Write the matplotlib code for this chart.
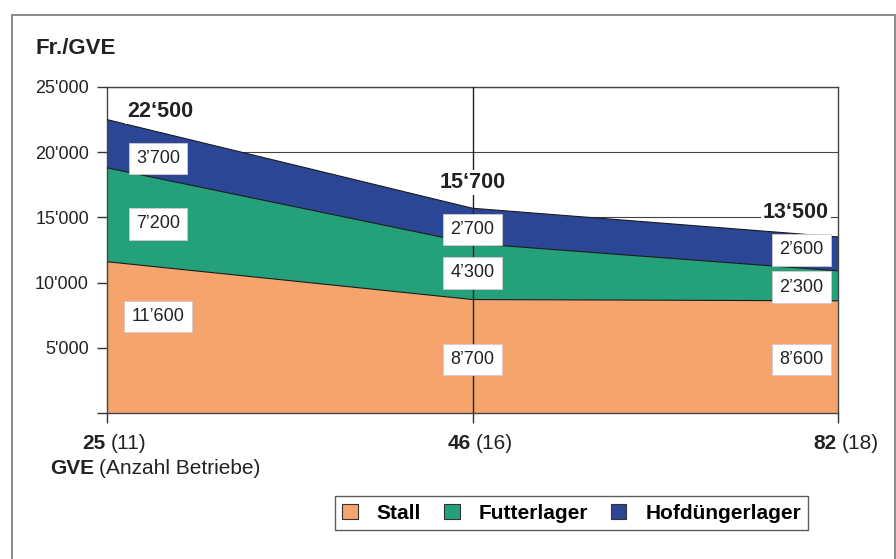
import matplotlib.pyplot as plt
from matplotlib.patches import Patch, Rectangle

plt.rcParams["font.family"] = ["Liberation Sans", "DejaVu Sans"]

# GVE classes (number of farms in brackets)
gve = ["25", "46", "82"]
betriebe = ["(11)", "(16)", "(18)"]

# costs in Fr./GVE
stall = [11600, 8700, 8600]
futterlager = [7200, 4300, 2300]
hofduenger = [3700, 2700, 2600]
totals = [22500, 15700, 13500]

series_names = ["Stall", "Futterlager", "Hofdüngerlager"]
colors = ["#F6A46E", "#24A07A", "#2C4696"]

# where the value boxes sit (category position, y in Fr./GVE)
label_x = [0.14, 1.0, 1.9]
label_y = [[7400, 4100, 4100], [14500, 10750, 9650], [19500, 14050, 12500]]
total_x = [0.145, 1.0, 1.885]
total_y = [23100, 17650, 15350]


def fmt(v, quote="\u2019"):
    return f"{v:,}".replace(",", quote)


fig = plt.figure(figsize=(8.96, 5.59), dpi=100)
ax = fig.add_axes([0.1194, 0.2612, 0.8159, 0.5832])

# outer frame of the figure
fig.patches.append(Rectangle((12 / 896, -0.1), 883 / 896, 1.073, transform=fig.transFigure,
                             fill=False, edgecolor="#777777", linewidth=1.2))

x = list(range(len(gve)))
layers = [stall, futterlager, hofduenger]
bottom = [0] * len(x)
for vals, col in zip(layers, colors):
    top = [b + v for b, v in zip(bottom, vals)]
    ax.fill_between(x, bottom, top, facecolor=col, edgecolor="none", zorder=2)
    ax.plot(x, top, color="#1a1a1a", linewidth=0.8, zorder=3)
    bottom = top

ax.set_xlim(0, 2)
ax.set_ylim(0, 25000)
ax.set_yticks(range(0, 25001, 5000))
ax.set_yticklabels([""] + [fmt(v, "'") for v in range(5000, 25001, 5000)], fontsize=13)
ax.set_xticks(x)
ax.set_xticklabels([])
ax.tick_params(axis="both", direction="out", length=7, width=1, color="#333333")
ax.tick_params(axis="y", pad=6, labelcolor="#222222")
ax.grid(axis="y", color="#444444", linewidth=0.8, zorder=0)
ax.set_axisbelow(True)
ax.axvline(1, color="#222222", linewidth=1, zorder=4)
for s in ax.spines.values():
    s.set_color("#444444")
    s.set_linewidth(1)

# value boxes
for layer, vals in enumerate(layers):
    for i, v in enumerate(vals):
        ax.text(label_x[i], label_y[layer][i], fmt(v), ha="center", va="center",
                fontsize=13, color="#222222", zorder=6,
                bbox=dict(boxstyle="square,pad=0.4", facecolor="white",
                          edgecolor="#d8c8c8", linewidth=0.6))

# totals on top of the stack
for i, t in enumerate(totals):
    ax.text(total_x[i], total_y[i], fmt(t, "\u2018"), ha="center", va="center",
            fontsize=15.5, fontweight="bold", color="#222222", zorder=6,
            bbox=dict(boxstyle="square,pad=0.1", facecolor="white", edgecolor="none"))

# x labels: bold GVE, farm count in brackets right after it
for i in x:
    num = ax.text(i - 0.004, -0.065, gve[i], transform=ax.get_xaxis_transform(), ha="right",
                  va="top", fontsize=15, fontweight="bold", color="#222222")
    ax.annotate(betriebe[i], xy=(1, 0), xycoords=num, xytext=(3.5, 0),
                textcoords="offset points", ha="left", va="bottom", fontsize=15,
                color="#222222")

gv = fig.text(50 / 896, 1 - 459 / 559, "GVE", ha="left", va="top", fontsize=15,
              fontweight="bold", color="#222222")
ax.annotate("(Anzahl Betriebe)", xy=(1, 0), xycoords=gv, xytext=(3.5, 0),
            textcoords="offset points", ha="left", va="bottom", fontsize=15,
            color="#222222", annotation_clip=False)
fig.text(35 / 896, 1 - 48 / 559, "Fr./GVE", ha="left", va="center", fontsize=16,
         fontweight="bold", color="#222222")

handles = [Patch(facecolor=c, edgecolor="#333333", linewidth=0.8) for c in colors]
leg = fig.legend(handles, series_names, loc="center", bbox_to_anchor=(0.638, 0.082),
                 ncol=3, frameon=True, fancybox=False, prop={"weight": "bold", "size": 15},
                 handlelength=0.75, handleheight=0.75, handletextpad=0.9, columnspacing=1.1,
                 borderpad=0.35, borderaxespad=0)
leg.get_frame().set_edgecolor("#333333")
leg.get_frame().set_linewidth(1)

fig.savefig("out.png", dpi=100)
